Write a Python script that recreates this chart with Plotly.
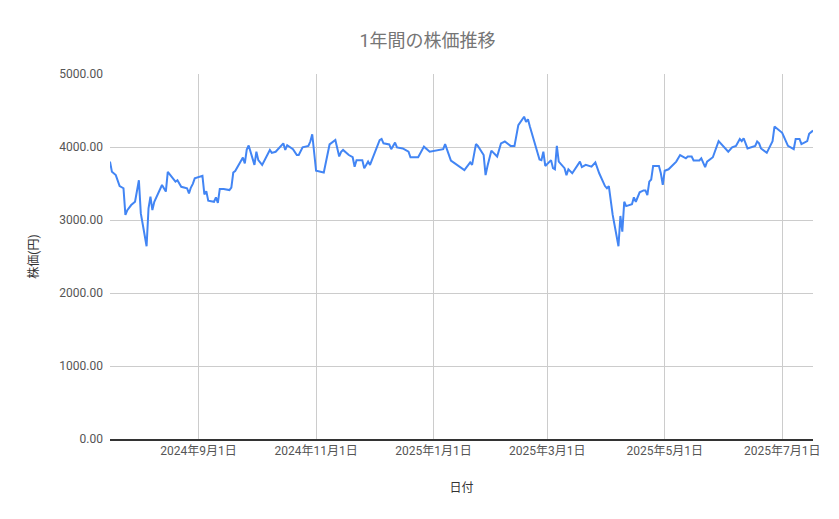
import plotly.graph_objects as go

# 日付と終値 (チャートから読み取った値)
dates = [
    "2024-07-17", "2024-07-18", "2024-07-20", "2024-07-22", "2024-07-24", "2024-07-25",
    "2024-07-26", "2024-07-28", "2024-07-30", "2024-08-01", "2024-08-02", "2024-08-05",
    "2024-08-06", "2024-08-07", "2024-08-08", "2024-08-09", "2024-08-13", "2024-08-15",
    "2024-08-16", "2024-08-20", "2024-08-21", "2024-08-23", "2024-08-26", "2024-08-27",
    "2024-08-28", "2024-08-29", "2024-08-30", "2024-09-02", "2024-09-03", "2024-09-04",
    "2024-09-05", "2024-09-06", "2024-09-09", "2024-09-10", "2024-09-11", "2024-09-12",
    "2024-09-14", "2024-09-17", "2024-09-18", "2024-09-19", "2024-09-20", "2024-09-24",
    "2024-09-25", "2024-09-26", "2024-09-27", "2024-09-30", "2024-10-01", "2024-10-02",
    "2024-10-04", "2024-10-08", "2024-10-09", "2024-10-11", "2024-10-15", "2024-10-16",
    "2024-10-17", "2024-10-20", "2024-10-22", "2024-10-23", "2024-10-25", "2024-10-28",
    "2024-10-29", "2024-10-30", "2024-11-01", "2024-11-05", "2024-11-07", "2024-11-08",
    "2024-11-11", "2024-11-13", "2024-11-14", "2024-11-15", "2024-11-18", "2024-11-20",
    "2024-11-21", "2024-11-22", "2024-11-25", "2024-11-26", "2024-11-27", "2024-11-28",
    "2024-11-29", "2024-12-04", "2024-12-05", "2024-12-06", "2024-12-09", "2024-12-10",
    "2024-12-12", "2024-12-13", "2024-12-16", "2024-12-19", "2024-12-20", "2024-12-24",
    "2024-12-27", "2024-12-30", "2025-01-06", "2025-01-07", "2025-01-10", "2025-01-16",
    "2025-01-17", "2025-01-20", "2025-01-21", "2025-01-23", "2025-01-24", "2025-01-27",
    "2025-01-28", "2025-01-29", "2025-01-31", "2025-02-03", "2025-02-05", "2025-02-07",
    "2025-02-10", "2025-02-12", "2025-02-14", "2025-02-17", "2025-02-18", "2025-02-19",
    "2025-02-20", "2025-02-25", "2025-02-26", "2025-02-27", "2025-02-28", "2025-03-03",
    "2025-03-04", "2025-03-05", "2025-03-06", "2025-03-07", "2025-03-10", "2025-03-11",
    "2025-03-12", "2025-03-14", "2025-03-18", "2025-03-19", "2025-03-21", "2025-03-24",
    "2025-03-26", "2025-03-28", "2025-03-31", "2025-04-01", "2025-04-02", "2025-04-04",
    "2025-04-07", "2025-04-08", "2025-04-09", "2025-04-10", "2025-04-11", "2025-04-14",
    "2025-04-15", "2025-04-16", "2025-04-18", "2025-04-20", "2025-04-21", "2025-04-22",
    "2025-04-23", "2025-04-24", "2025-04-25", "2025-04-28", "2025-04-29", "2025-04-30",
    "2025-05-01", "2025-05-03", "2025-05-07", "2025-05-09", "2025-05-12", "2025-05-13",
    "2025-05-15", "2025-05-16", "2025-05-19", "2025-05-20", "2025-05-22", "2025-05-23",
    "2025-05-26", "2025-05-29", "2025-06-03", "2025-06-05", "2025-06-07", "2025-06-09",
    "2025-06-10", "2025-06-11", "2025-06-13", "2025-06-17", "2025-06-18", "2025-06-19",
    "2025-06-20", "2025-06-23", "2025-06-26", "2025-06-27", "2025-07-01", "2025-07-04",
    "2025-07-07", "2025-07-08", "2025-07-10", "2025-07-11", "2025-07-14", "2025-07-15",
    "2025-07-17",
]

prices = [
    3800, 3660, 3615, 3465, 3435, 3070,
    3135, 3205, 3250, 3545, 3090, 2640,
    3160, 3320, 3135, 3250, 3480, 3390,
    3660, 3525, 3545, 3455, 3435, 3365,
    3445, 3495, 3570, 3595, 3605, 3350,
    3395, 3265, 3250, 3310, 3235, 3425,
    3425, 3410, 3445, 3650, 3670, 3855,
    3775, 3965, 4020, 3755, 3935, 3820,
    3755, 3960, 3920, 3935, 4050, 3960,
    4025, 3970, 3890, 3890, 3995, 4015,
    4075, 4175, 3675, 3650, 3890, 4035,
    4095, 3870, 3935, 3960, 3890, 3860,
    3730, 3820, 3820, 3710, 3755, 3800,
    3755, 4095, 4110, 4050, 4035, 3970,
    4060, 3995, 3980, 3935, 3860, 3860,
    4005, 3935, 3970, 4040, 3815, 3710,
    3685, 3790, 3755, 4040, 4015, 3890,
    3615, 3740, 3950, 3870, 4050, 4075,
    4015, 4015, 4300, 4415, 4345, 4380,
    4280, 3830, 3820, 3935, 3740, 3820,
    3710, 3695, 4015, 3800, 3710, 3615,
    3695, 3640, 3800, 3725, 3755, 3730,
    3790, 3640, 3465, 3435, 3465, 3070,
    2640, 3055, 2840, 3250, 3190, 3215,
    3310, 3250, 3380, 3405, 3405, 3340,
    3525, 3555, 3740, 3740, 3640, 3480,
    3675, 3695, 3800, 3890, 3845, 3870,
    3870, 3815, 3815, 3845, 3725, 3800,
    3860, 4080, 3935, 3995, 4015, 4110,
    4080, 4120, 3980, 4015, 4075, 4050,
    3980, 3920, 4080, 4280, 4195, 4015,
    3970, 4110, 4110, 4040, 4080, 4180,
    4225,
]

tick_dates = ["2024-09-01", "2024-11-01", "2025-01-01", "2025-03-01", "2025-05-01", "2025-07-01"]
tick_labels = ["2024年9月1日", "2024年11月1日", "2025年1月1日", "2025年3月1日", "2025年5月1日", "2025年7月1日"]
y_ticks = [0, 1000, 2000, 3000, 4000, 5000]

font_family = "Roboto, Noto Sans CJK JP, sans-serif"

fig = go.Figure()
fig.add_trace(go.Scatter(
    x=dates,
    y=prices,
    mode="lines",
    line=dict(color="#4285F4", width=2),
    name="株価",
))

# ページ本体の 8px マージン分をずらして配置
fig.update_layout(
    width=839,
    height=519,
    paper_bgcolor="white",
    plot_bgcolor="white",
    showlegend=False,
    margin=dict(l=102, r=34, t=66, b=88),
    font=dict(family=font_family, size=12, color="#444444"),
    title=dict(
        text="1年間の株価推移",
        x=0.5, xanchor="center",
        y=0.937, yanchor="middle",
        font=dict(size=18, color="#757575", family=font_family),
    ),
)

fig.update_xaxes(
    range=["2024-07-17", "2025-07-17"],
    tickvals=tick_dates,
    ticktext=tick_labels,
    showgrid=True,
    gridcolor="#cccccc",
    gridwidth=1,
    showline=True,
    linecolor="#333333",
    linewidth=1.5,
    ticks="",
    tickfont=dict(size=12, color="#555555"),
    title=dict(text="日付", font=dict(size=12, color="#333333"), standoff=26),
)

fig.update_yaxes(
    range=[0, 5000],
    tickvals=y_ticks,
    tickformat=".2f",
    showgrid=True,
    gridcolor="#cccccc",
    gridwidth=1,
    zeroline=False,
    ticks="",
    ticklabelstandoff=6,
    tickfont=dict(size=12, color="#555555"),
    title=dict(text="株価(円)", font=dict(size=12, color="#333333"), standoff=18),
)

fig.write_html("out.html")
